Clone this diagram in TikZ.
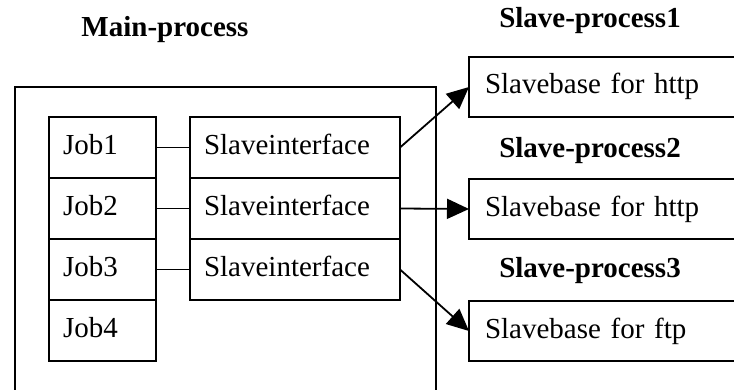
\documentclass[tikz,border=0pt]{standalone}
\usepackage{fontspec}
\setmainfont{Liberation Serif}
\usetikzlibrary{positioning,arrows.meta}
\tikzset{
  link/.style={line width=0.9pt,draw=black},
  flow/.style={-{Triangle[length=11pt,width=10pt]},line width=0.9pt,draw=black},
  mainbox/.style={draw,line width=0.9pt,outer sep=0pt,inner sep=0pt},
  title/.style={font=\fontsize{14.5}{17}\selectfont\bfseries,anchor=base},
  cell/.style={draw,line width=0.9pt,outer sep=0pt,inner ysep=0pt,
    font=\fontsize{14.5}{17}\selectfont,align=left,
    text height=10.5pt,text depth=3.5pt},
  jobbox/.style={cell,inner xsep=7pt,text width=39.5pt,minimum height=30.5pt},
  sibox/.style={cell,inner xsep=7pt,text width=91pt,minimum height=30.5pt},
  basebox/.style={cell,inner xsep=8pt,text width=124.5pt,minimum height=30pt}
}
\begin{document}
\begin{tikzpicture}[x=0.5pt,y=-0.5pt]
  \useasboundingbox (0,0) rectangle (734,390);
  \node[mainbox,anchor=north west,minimum width=210.5pt,minimum height=156.5pt] (main) at (15,87) {};
  \node[title] (maintitle) at (165,37) {Main-process};

  \node[jobbox,anchor=north west] (job1) at (49,117) {Job1};
  \node[jobbox,below=0pt of job1] (job2) {Job2};
  \node[jobbox,below=0pt of job2] (job3) {Job3};
  \node[jobbox,below=0pt of job3] (job4) {Job4};

  \node[sibox,anchor=north west] (si1) at (190,117) {Slaveinterface};
  \node[sibox,below=0pt of si1] (si2) {Slaveinterface};
  \node[sibox,below=0pt of si2] (si3) {Slaveinterface};

  \node[basebox,anchor=north west] (sb1) at (469,57) {Slavebase for http};
  \node[basebox,anchor=north west] (sb2) at (469,179) {Slavebase for http};
  \node[basebox,anchor=north west] (sb3) at (469,301) {Slavebase for ftp};
  \node[title] (st1) at (590,28) {Slave-process1};
  \node[title] (st2) at (590,157) {Slave-process2};
  \node[title] (st3) at (590,278) {Slave-process3};

  \draw[link] (job1) -- (si1);
  \draw[link] (job2) -- (si2);
  \draw[link] (job3) -- (si3);
  \draw[flow] (si1.east) -- (sb1.west);
  \draw[flow] (si2.east) -- (sb2.west);
  \draw[flow] (si3.east) -- (sb3.west);
\end{tikzpicture}
\end{document}
